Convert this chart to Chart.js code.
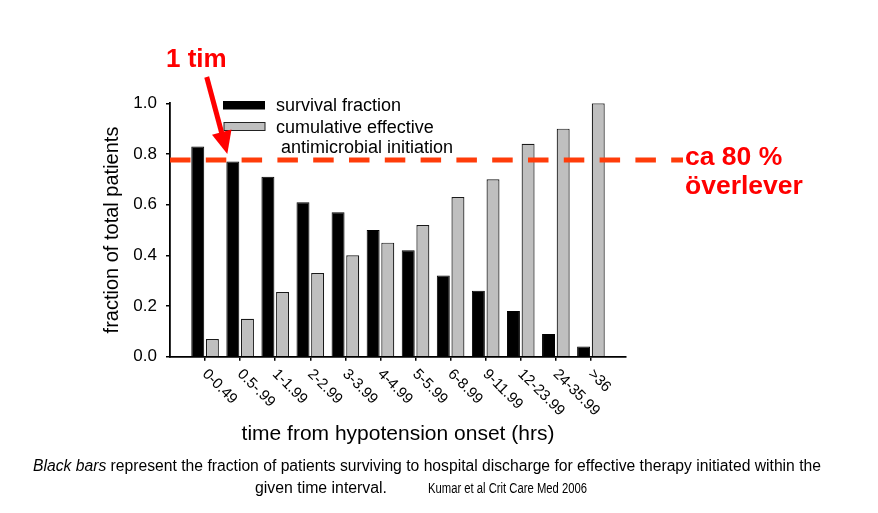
<!DOCTYPE html>
<html>
<head>
<meta charset="utf-8">
<script src="https://cdn.jsdelivr.net/npm/chart.js@4.4.1/dist/chart.umd.min.js"></script>
<style>
  html, body { margin: 0; padding: 0; background: #fff; }
  #wrap { width: 878px; height: 513px; }
</style>
</head>
<body>
<div id="wrap"><canvas id="chart" width="878" height="513"></canvas></div>
<script>
// Données
const categories = ['0-0.49', '0.5-.99', '1-1.99', '2-2.99', '3-3.99', '4-4.99',
                    '5-5.99', '6-8.99', '9-11.99', '12-23.99', '24-35.99', '>36'];
const survivalFraction = [0.83, 0.77, 0.71, 0.61, 0.57, 0.50, 0.42, 0.32, 0.26, 0.18, 0.09, 0.04];
const cumulativeInitiation = [0.07, 0.15, 0.255, 0.33, 0.40, 0.45, 0.52, 0.63, 0.70, 0.84, 0.90, 1.0];
const yTicks = [0, 0.2, 0.4, 0.6, 0.8, 1.0];
const thresholdValue = 0.776;

const FONT = "'Liberation Sans', Arial, Helvetica, sans-serif";
Chart.defaults.font.family = FONT;
Chart.defaults.color = '#000';

function toPoints(values) {
    return values.map((v, i) => ({ x: i, y: v }));
}

// Texte ajusté à une largeur donnée (police étroite de l'original)
function drawFitted(ctx, parts, x, y, width) {
    let total = 0;
    parts.forEach(p => { ctx.font = p.font; total += ctx.measureText(p.text).width; });
    const s = width / total;
    ctx.save();
    ctx.translate(x, y);
    ctx.scale(s, 1);
    let cx = 0;
    parts.forEach(p => {
        ctx.font = p.font;
        ctx.fillText(p.text, cx, 0);
        cx += ctx.measureText(p.text).width;
    });
    ctx.restore();
}

const overlay = {
    id: 'overlay',
    afterDraw(chart) {
        const ctx = chart.ctx;
        const xs = chart.scales.x;
        const ys = chart.scales.y;
        const area = chart.chartArea;

        // Etiquettes de l'axe x, inclinées vers le bas
        ctx.save();
        ctx.fillStyle = '#000';
        ctx.font = '15px ' + FONT;
        ctx.textAlign = 'left';
        ctx.textBaseline = 'middle';
        categories.forEach((lab, i) => {
            const x = xs.getPixelForValue(i);
            ctx.save();
            ctx.translate(x - 0.5, xs.top + 15);
            ctx.rotate(Math.PI / 4);
            ctx.fillText(lab, 0, 0);
            ctx.restore();
        });
        ctx.restore();

        // Légende
        const ds = chart.data.datasets;
        const lx = area.left + 53;
        ctx.save();
        ctx.fillStyle = ds[0].backgroundColor;
        ctx.fillRect(lx, 101, 42, 8.5);
        ctx.fillStyle = ds[1].backgroundColor;
        ctx.fillRect(lx + 1, 122.5, 41, 8);
        ctx.strokeStyle = '#222';
        ctx.lineWidth = 1;
        ctx.strokeRect(lx + 1, 122.5, 41, 8);
        ctx.fillStyle = '#000';
        ctx.font = '18px ' + FONT;
        ctx.textBaseline = 'alphabetic';
        ctx.fillText(ds[0].label, lx + 53, 110.5);
        const lines = ds[1].label.split('\n');
        ctx.fillText(lines[0], lx + 53, 133);
        ctx.fillText(lines[1], lx + 58, 153);
        ctx.restore();

        // Ligne pointillée "ca 80 %"
        const yLine = ys.getPixelForValue(thresholdValue);
        ctx.save();
        ctx.strokeStyle = '#ff3c0a';
        ctx.lineWidth = 5;
        ctx.setLineDash([20.5, 15.3]);
        ctx.beginPath();
        ctx.moveTo(area.left, yLine);
        ctx.lineTo(683, yLine);
        ctx.stroke();
        ctx.restore();

        // Flèche rouge
        ctx.save();
        ctx.strokeStyle = '#ff0000';
        ctx.fillStyle = '#ff0000';
        ctx.lineWidth = 5;
        ctx.beginPath();
        ctx.moveTo(206.7, 77);
        ctx.lineTo(222, 134);
        ctx.stroke();
        ctx.beginPath();
        ctx.moveTo(212, 134.7);
        ctx.lineTo(231.5, 129.5);
        ctx.lineTo(227.3, 154);
        ctx.closePath();
        ctx.fill();
        ctx.restore();

        // Annotations en rouge
        ctx.save();
        ctx.fillStyle = '#ff0000';
        ctx.textBaseline = 'alphabetic';
        ctx.font = 'bold 26px ' + FONT;
        ctx.fillText('1 tim', 166, 66.7);
        ctx.font = 'bold 26.5px ' + FONT;
        ctx.fillText('ca 80 %', 685, 164.5);
        ctx.fillText('överlever', 685, 194);
        ctx.restore();

        // Légende du bas
        ctx.save();
        ctx.fillStyle = '#000';
        ctx.textBaseline = 'alphabetic';
        drawFitted(ctx, [
            { text: 'Black bars', font: 'italic 16px ' + FONT },
            { text: ' represent the fraction of patients surviving to hospital discharge for effective therapy initiated within the', font: '16px ' + FONT }
        ], 33, 471, 788);
        drawFitted(ctx, [{ text: 'given time interval.', font: '16px ' + FONT }], 255, 493, 132);
        drawFitted(ctx, [{ text: 'Kumar et al Crit Care Med 2006', font: '14px ' + FONT }], 428, 493, 159);
        ctx.restore();
    }
};

new Chart(document.getElementById('chart'), {
    type: 'bar',
    data: {
        datasets: [{
            label: 'survival fraction',
            data: toPoints(survivalFraction),
            backgroundColor: '#000000',
            borderColor: '#000000',
            borderWidth: 1
        }, {
            label: 'cumulative effective\nantimicrobial initiation',
            data: toPoints(cumulativeInitiation),
            backgroundColor: '#bfbfbf',
            borderColor: '#1a1a1a',
            borderWidth: 1.2
        }]
    },
    options: {
        responsive: false,
        animation: false,
        categoryPercentage: 0.835,
        barPercentage: 0.885,
        layout: {
            padding: { left: 100, right: 252, top: 103.3, bottom: 56.3 }
        },
        plugins: {
            legend: { display: false },
            tooltip: { enabled: false }
        },
        scales: {
            x: {
                type: 'linear',
                min: -1,
                max: 12,
                offset: false,
                afterBuildTicks: scale => {
                    scale.ticks = categories.map((_, i) => ({ value: i }));
                },
                afterFit: scale => { scale.height = 100; },
                ticks: { display: false },
                grid: {
                    offset: false,
                    drawOnChartArea: false,
                    drawTicks: true,
                    tickLength: 4,
                    color: '#000',
                    lineWidth: 1.5
                },
                border: { display: true, color: '#000', width: 1.8 },
                title: {
                    display: true,
                    text: 'time from hypotension onset (hrs)',
                    font: { size: 21 },
                    padding: { top: 0, bottom: 9.8 }
                }
            },
            y: {
                min: 0,
                max: 1.0,
                afterBuildTicks: scale => {
                    scale.ticks = yTicks.map(v => ({ value: v }));
                },
                afterFit: scale => { scale.width = 70; },
                ticks: {
                    font: { size: 17 },
                    padding: 9,
                    callback: v => Number(v).toFixed(1)
                },
                grid: {
                    drawOnChartArea: false,
                    drawTicks: true,
                    tickLength: 4,
                    color: '#000',
                    lineWidth: 1.5
                },
                border: { display: true, color: '#000', width: 1.8 },
                title: {
                    display: true,
                    text: 'fraction of total patients',
                    font: { size: 20 },
                    padding: { top: 0, bottom: 0 }
                }
            }
        }
    },
    plugins: [overlay]
});
</script>
</body>
</html>
